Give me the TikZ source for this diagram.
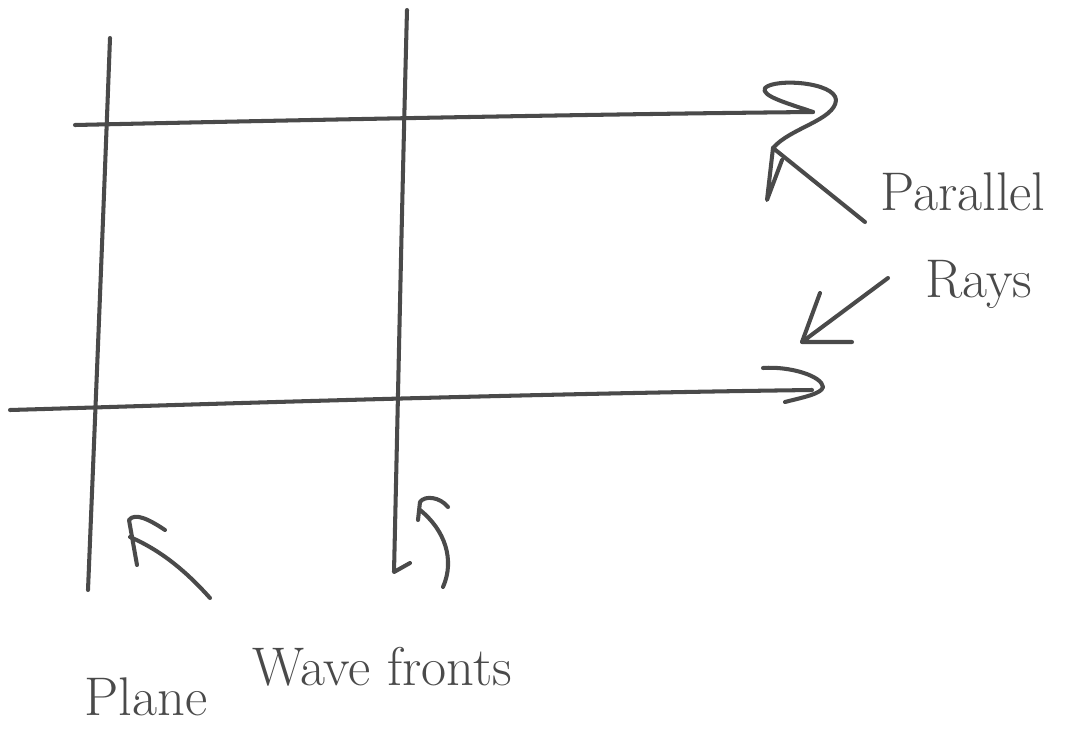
\documentclass[tikz,border=0pt]{standalone}
\usepackage{xcolor}
\definecolor{ink}{HTML}{4A4A4A}
\begin{document}
\begin{tikzpicture}[x=0.02cm,y=-0.02cm,
  pen/.style={draw=ink,line width=2.3pt,line cap=round,line join=round},
  label/.style={text=ink,font=\fontsize{31}{36}\selectfont,inner sep=0pt}]
\useasboundingbox (0,0) rectangle (1086,751);
% wave fronts
\draw[pen] (110,38) .. controls (102,250) and (95,420) .. (88,590);
\draw[pen] (407,10) .. controls (402,200) and (398,400) .. (394,572) -- (410,563);
% rays
\draw[pen] (75,125) .. controls (300,120) and (600,114) .. (813,112);
\draw[pen] (10,410) .. controls (150,406) and (500,394) .. (812,390);
% top ray arrowhead
\draw[pen] (813,112) .. controls (790,104) and (760,96) .. (765,88)
  .. controls (775,78) and (835,82) .. (836,100)
  .. controls (835,120) and (790,128) .. (773,148) -- (767,200) -- (782,160);
\draw[pen] (773,148) -- (865,222);
% bottom ray arrowhead
\draw[pen] (763,368) .. controls (790,366) and (822,376) .. (823,387)
  .. controls (822,394) and (800,398) .. (785,402);
% arrow to lower ray
\draw[pen] (888,278) -- (802,342) -- (852,342);
\draw[pen] (802,342) -- (820,293);
% arrows to wave fronts
\draw[pen] (210,598) .. controls (185,570) and (160,550) .. (130,537);
\draw[pen] (165,530) .. controls (150,520) and (135,512) .. (129,520) -- (137,565);
\draw[pen] (443,587) .. controls (455,560) and (445,530) .. (420,510);
\draw[pen] (448,507) .. controls (440,497) and (425,495) .. (420,502) -- (418,520);
% labels
\node[label,anchor=base west] (parallel) at (880,210) {Parallel};
\node[label,anchor=base west] (rays) at (925,297) {Rays};
\node[label,anchor=base west] (plane) at (84,715) {Plane};
\node[label,anchor=base west] (wave) at (252,685) {Wave fronts};
\end{tikzpicture}
\end{document}
